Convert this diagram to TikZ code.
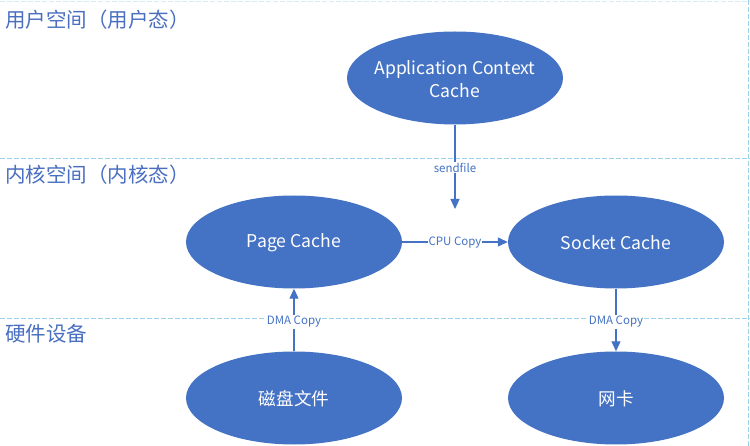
\documentclass[tikz,border=0pt]{standalone}
\usepackage{fontspec}
\setmainfont{Noto Sans CJK SC}
\usetikzlibrary{arrows.meta,shapes.geometric}
\definecolor{obl}{HTML}{4472C4}
\definecolor{sep}{HTML}{9DD3EA}
\definecolor{ttl}{HTML}{4A6FC0}
\tikzset{
  x=1pt,y=-1pt,
  cache/.style={ellipse,fill=obl,draw=none,minimum width=216pt,minimum height=93pt,
    text=white,font=\fontsize{17.6}{23}\selectfont,align=center,inner sep=0pt},
  ctext/.style={text=white,font=\fontsize{17.6}{23}\selectfont,align=center,inner sep=0pt},
  region/.style={anchor=west,text=ttl,font=\fontsize{20.5}{24}\selectfont,inner sep=0pt},
  flow/.style={draw=obl,line width=1.1pt,-{Triangle[length=10pt,width=9pt]}},
  elabel/.style={fill=white,text=obl,font=\fontsize{11.5}{13}\selectfont,inner sep=1pt},
  sepline/.style={draw=sep,dashed,dash pattern=on 5pt off 2pt,line width=0.8pt}
}
\begin{document}
\begin{tikzpicture}
\useasboundingbox (0,0) rectangle (750,446);
\fill[white] (0,0) rectangle (750,446);
% separators
\draw[sepline] (0,158) -- (750,158);
\draw[sepline] (0,318) -- (750,318);
\draw[sepline] (748,0) -- (748,446);
\draw[sepline,draw opacity=0.4] (0,1) -- (750,1);
% region titles
\node[region] (t1) at (5,20) {用户空间（用户态）};
\node[region] (t2) at (5,175) {内核空间（内核态）};
\node[region] (t3) at (5,334) {硬件设备};
% ellipses
\node[cache] (app) at (455,78) {};
\node[cache] (page) at (294,242) {};
\node[cache] (sock) at (616,242) {};
\node[cache] (disk) at (294,398) {};
\node[cache] (nic) at (616,398) {};
\node[ctext] (appt) at (455,79) {Application Context\\Cache};
\node[ctext] (paget) at (294,243) {Page Cache};
\node[ctext] (sockt) at (616,243) {Socket Cache};
\node[ctext] (diskt) at (294,399) {磁盘文件};
\node[ctext] (nict) at (616,399) {网卡};
% connectors
\coordinate (sfend) at (455,209);
\draw[flow] (app.south) -- (sfend) node[elabel,pos=0.51] (lsf) {sendfile};
\draw[flow] (page.east) -- (sock.west) node[elabel,midway,yshift=-1pt] (lcpu) {CPU Copy};
\draw[flow] (disk.north) -- (page.south) node[elabel,pos=0.47] (ldma1) {DMA Copy};
\draw[flow] (sock.south) -- (nic.north) node[elabel,pos=0.53] (ldma2) {DMA Copy};
\end{tikzpicture}
\end{document}
